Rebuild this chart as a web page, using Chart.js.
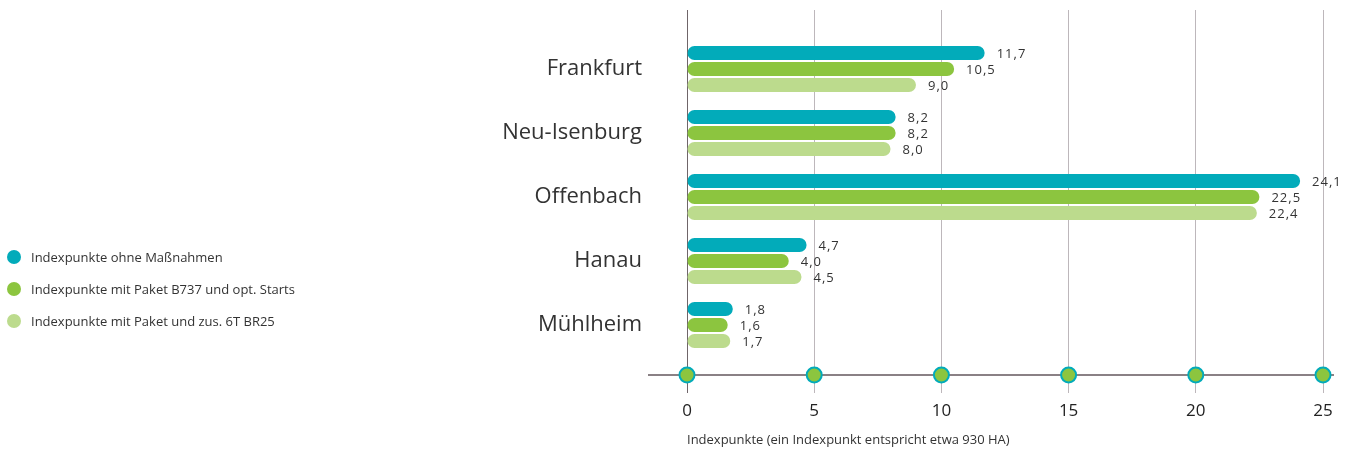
<!DOCTYPE html>
<html>
<head>
<meta charset="utf-8">
<script src="https://cdn.jsdelivr.net/npm/chart.js@4"></script>
<style>
    body { margin: 0; background: #fff; }
    #wrap { position: relative; width: 1359px; height: 455px; }
    #legend { position: absolute; left: 7px; top: 248px; font-family: "Open Sans", sans-serif; font-size: 13px; color: #333; }
    .item { height: 32px; display: flex; align-items: flex-start; }
    .dot { width: 14px; height: 14px; border-radius: 50%; margin-right: 10px; margin-top: 2px; }
</style>
</head>
<body>
<div id="wrap">
    <canvas id="chart" width="1359" height="455"></canvas>
    <div id="legend"></div>
</div>
<script>
// Data
const cities = ['Frankfurt', 'Neu-Isenburg', 'Offenbach', 'Hanau', 'Mühlheim'];
const ohneMassnahmen = [11.7, 8.2, 24.1, 4.7, 1.8];
const paketB737 = [10.5, 8.2, 22.5, 4.0, 1.6];
const paketBR25 = [9.0, 8.0, 22.4, 4.5, 1.7];
const seriesNames = [
    'Indexpunkte ohne Maßnahmen',
    'Indexpunkte mit Paket B737 und opt. Starts',
    'Indexpunkte mit Paket und zus. 6T BR25'
];
const xTicks = [0, 5, 10, 15, 20, 25];
const axisTitle = 'Indexpunkte (ein Indexpunkt entspricht etwa 930 HA)';

const colors = ['#02abba', '#8cc53f', '#bcdb8d'];
const fontFamily = '"Open Sans", sans-serif';

// Build legend
const legend = document.getElementById('legend');
seriesNames.forEach((name, i) => {
    const item = document.createElement('div');
    item.className = 'item';
    item.innerHTML = '<span class="dot" style="background:' + colors[i] + '"></span><span>' + name + '</span>';
    legend.appendChild(item);
});

function toPoints(values) {
    return values.map((v, i) => ({ x: v, y: i }));
}

// Horizontal axis line with dots, plus value labels
const decorPlugin = {
    id: 'decor',
    afterDatasetsDraw(chart) {
        const ctx = chart.ctx;
        const xs = chart.scales.x;
        const area = chart.chartArea;
        const axisY = area.bottom - 18;

        ctx.save();
        ctx.strokeStyle = '#8a8185';
        ctx.lineWidth = 2;
        ctx.beginPath();
        ctx.moveTo(area.left - 39, axisY);
        ctx.lineTo(area.right + 11, axisY);
        ctx.stroke();

        xTicks.forEach(t => {
            const px = xs.getPixelForValue(t);
            ctx.beginPath();
            ctx.arc(px, axisY, 7.5, 0, Math.PI * 2);
            ctx.fillStyle = '#8cc53f';
            ctx.fill();
            ctx.lineWidth = 2;
            ctx.strokeStyle = '#02abba';
            ctx.stroke();
        });

        // value labels
        ctx.font = '13px ' + fontFamily;
        ctx.fillStyle = '#333';
        ctx.textAlign = 'left';
        ctx.textBaseline = 'middle';
        ctx.letterSpacing = '1px';
        chart.data.datasets.forEach((ds, di) => {
            const meta = chart.getDatasetMeta(di);
            meta.data.forEach((bar, i) => {
                const label = ds.data[i].x.toFixed(1).replace('.', ',');
                ctx.fillText(label, bar.x + 12, bar.y + 1);
            });
        });
        ctx.restore();
    }
};

const ctx = document.getElementById('chart').getContext('2d');
const chart = new Chart(ctx, {
    type: 'bar',
    data: {
        datasets: [
            { label: seriesNames[0], data: toPoints(ohneMassnahmen), backgroundColor: colors[0] },
            { label: seriesNames[1], data: toPoints(paketB737), backgroundColor: colors[1] },
            { label: seriesNames[2], data: toPoints(paketBR25), backgroundColor: colors[2] }
        ]
    },
    options: {
        indexAxis: 'y',
        responsive: false,
        animation: false,
        categoryPercentage: 0.75,
        barPercentage: 0.875,
        borderRadius: 7,
        borderSkipped: false,
        layout: { padding: { top: 10, right: 36, left: 0, bottom: 0 } },
        plugins: {
            legend: { display: false },
            tooltip: { enabled: false }
        },
        scales: {
            x: {
                type: 'linear',
                min: 0,
                max: 25,
                border: { display: false },
                afterBuildTicks(scale) {
                    scale.ticks = xTicks.map(v => ({ value: v }));
                },
                afterFit(scale) { scale.height = 62; },
                grid: {
                    drawTicks: false,
                    color: c => (c.tick && c.tick.value === 0) ? '#6f6569' : '#bdb7bb',
                    lineWidth: 1
                },
                ticks: {
                    padding: 8,
                    color: '#222',
                    font: { family: fontFamily, size: 17 }
                },
                title: {
                    display: true,
                    text: axisTitle,
                    align: 'start',
                    color: '#333',
                    font: { family: fontFamily, size: 13 },
                    padding: { top: 0, bottom: 7 }
                }
            },
            y: {
                type: 'linear',
                reverse: true,
                offset: false,
                min: -0.921875,
                max: 5.0625,
                afterBuildTicks(scale) {
                    scale.ticks = cities.map((c, i) => ({ value: i }));
                },
                afterFit(scale) {
                    scale.width = 687;
                    scale.paddingTop = 0;
                    scale.paddingBottom = 0;
                },
                border: { display: false },
                grid: { display: false, drawTicks: false },
                ticks: {
                    padding: 45,
                    color: '#333',
                    font: { family: fontFamily, size: 22 },
                    callback: v => cities[v]
                }
            }
        }
    },
    plugins: [decorPlugin]
});
</script>
</body>
</html>
